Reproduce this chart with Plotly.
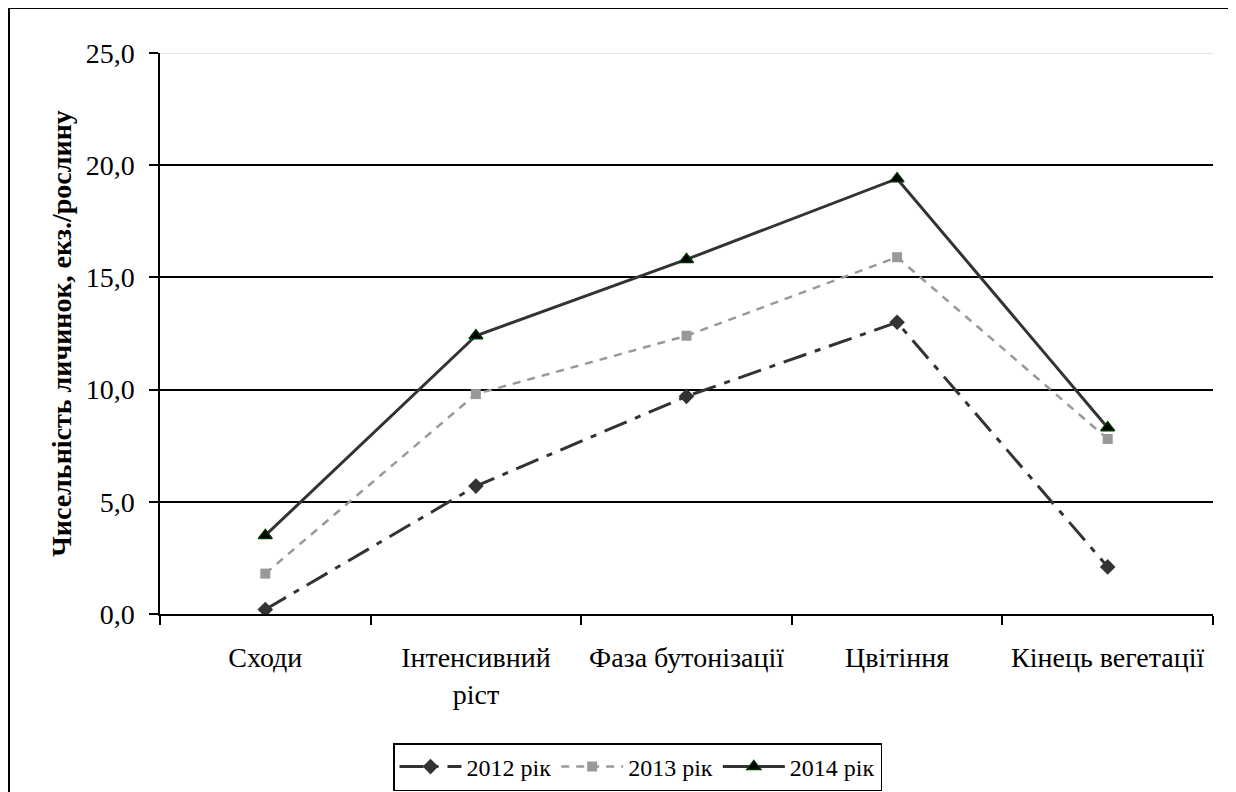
import plotly.graph_objects as go

categories = ["Сходи", "Інтенсивний<br>ріст", "Фаза бутонізації", "Цвітіння", "Кінець вегетації"]
y2012 = [0.2, 5.7, 9.7, 13.0, 2.1]
y2013 = [1.8, 9.8, 12.4, 15.9, 7.8]
y2014 = [3.5, 12.4, 15.8, 19.4, 8.3]
series_names = ["2012 рік", "2013 рік", "2014 рік"]
y_title = "Чисельність личинок, екз./рослину"
y_ticks = [0, 5, 10, 15, 20, 25]

FONT = "Liberation Serif"

fig = go.Figure()
fig.add_trace(go.Scatter(
    x=categories, y=y2012, name=series_names[0], mode="lines+markers",
    line=dict(color="#333333", width=3, dash="24px,9px,6px,9px"),
    marker=dict(symbol="diamond", size=12, color="#333333"),
))
fig.add_trace(go.Scatter(
    x=categories, y=y2013, name=series_names[1], mode="lines+markers",
    line=dict(color="#999999", width=2.5, dash="8px,7px"),
    marker=dict(symbol="square", size=10, color="#999999"),
))
fig.add_trace(go.Scatter(
    x=categories, y=y2014, name=series_names[2], mode="lines+markers",
    line=dict(color="#333333", width=3),
    marker=dict(symbol="triangle-up", size=12, color="#000000",
                line=dict(color="#003300", width=1.5)),
))

W, H = 1236, 792
OFF = 8  # page body margin
L, R, T, B = 160 - OFF, 1236 - (1213 - OFF), 53 - OFF, 792 - (614 - OFF)
pw, ph = W - L - R, H - T - B

def px_x(p):
    return (p - OFF - L) / pw

def px_y(p):
    return (H - B - (p - OFF)) / ph

fig.update_layout(
    width=W, height=H,
    margin=dict(l=L, r=R, t=T, b=B, autoexpand=False),
    paper_bgcolor="white", plot_bgcolor="white",
    separators=", ",
    font=dict(family=FONT, size=26, color="black"),
    showlegend=True,
    legend=dict(
        orientation="h", x=px_x(393), y=px_y(743), xanchor="left", yanchor="top",
        bordercolor="black", borderwidth=1.5, bgcolor="white",
        font=dict(family=FONT, size=24, color="black"),
        itemwidth=62, tracegroupgap=0,
    ),
    xaxis=dict(
        type="category", showgrid=False, showline=True, linecolor="black", linewidth=1.5,
        ticks="outside", tickson="boundaries", ticklen=9, tickcolor="black", tickwidth=1.5,
        tickfont=dict(family=FONT, size=28, color="black"),
        ticklabelstandoff=18,
        range=[-0.5, 4.5],
    ),
    yaxis=dict(
        range=[0, 25], tickvals=y_ticks, tickformat=".1f",
        showgrid=True, gridcolor="black", gridwidth=1.5,
        showline=True, linecolor="black", linewidth=1.5,
        ticks="outside", ticklen=9, tickcolor="black", tickwidth=1.5,
        tickfont=dict(family=FONT, size=28, color="black"),
        ticklabelstandoff=9,
        zeroline=False,
        title=dict(text="<b>" + y_title + "</b>", font=dict(family=FONT, size=28, color="black"), standoff=6),
    ),
    shapes=[
        dict(type="line", xref="paper", yref="y", x0=0, x1=1, y0=25, y1=25,
             line=dict(color="#dddddd", width=1.5), layer="below"),
        dict(type="rect", xref="paper", yref="paper",
             x0=px_x(9), x1=px_x(1230), y0=px_y(800), y1=px_y(8),
             line=dict(color="black", width=2)),
    ],
)

fig.write_html("out.html")
